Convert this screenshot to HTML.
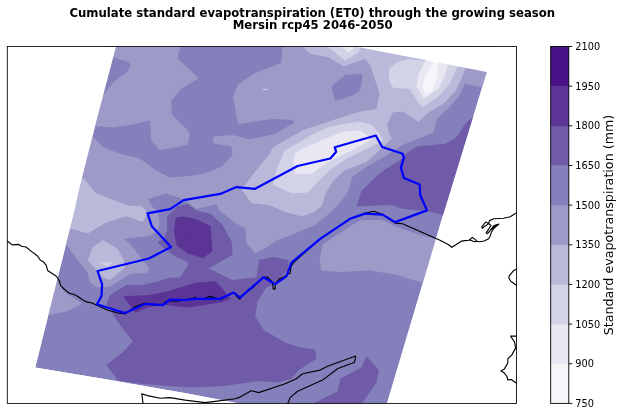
<!DOCTYPE html>
<html><head><meta charset="utf-8">
<title>Cumulate standard evapotranspiration (ET0) - Mersin rcp45 2046-2050</title>
<style>
html,body{margin:0;padding:0;background:#fff;}
body{width:623px;height:416px;overflow:hidden;}
svg{display:block;will-change:transform;}
text{font-family:"DejaVu Sans","Liberation Sans",sans-serif;fill:#000;}
.t{font-size:11.7px;font-weight:bold;text-anchor:middle;}
.k{font-size:9.75px;}
.l{font-size:12.68px;text-anchor:middle;}
.c{fill:none;stroke:#000;stroke-width:1.15;stroke-linejoin:round;stroke-linecap:round;}
.b{fill:none;stroke:#0000ff;stroke-width:2.2;stroke-linejoin:round;stroke-linecap:round;}
</style></head><body>
<svg width="623" height="416" viewBox="0 0 623 416">
<rect width="623" height="416" fill="#fff"/>
<text class="t" x="312.3" y="16.7">Cumulate standard evapotranspiration (ET0) through the growing season</text>
<text class="t" x="312.7" y="29.2">Mersin rcp45 2046-2050</text>
<defs>
<clipPath id="ax"><rect x="7.30" y="46.50" width="509.25" height="356.90"/></clipPath>
<clipPath id="quad"><path d="M116.1 46.3 L354.0 46.3 L486.9 72.0 L441.6 220.0 L387.0 403.4 L239.4 403.4 L190.0 394.1 L100.0 378.3 L35.2 367.4 L74.6 210.0 L78.9 190.0 L96.6 120.0 Z"/></clipPath>
</defs>
<g clip-path="url(#ax)"><g>
<path d="M116.1 46.3 L354.0 46.3 L486.9 72.0 L441.6 220.0 L387.0 403.4 L239.4 403.4 L190.0 394.1 L100.0 378.3 L35.2 367.4 L74.6 210.0 L78.9 190.0 L96.6 120.0 Z" fill="#8380bb"/>
<path d="M100.0 40.0 L180.1 40.0 L180.1 47.0 L177.6 58.8 L198.9 78.1 L181.4 88.8 L170.9 101.3 L172.1 115.1 L185.1 127.6 L190.1 133.8 L187.6 145.0 L160.0 150.0 L151.3 141.3 L150.2 120.5 L130.2 125.0 L112.6 127.5 L96.0 126.3 L80.0 126.0 Z" fill="#9e9ac8"/>
<path d="M282.1 40.0 L500.0 40.0 L500.0 87.0 L482.1 87.4 L464.7 83.6 L459.9 95.1 L449.3 107.6 L437.8 118.2 L435.6 122.5 L433.8 132.5 L415.1 140.1 L402.5 145.1 L392.0 152.0 L384.2 156.7 L369.0 165.2 L352.2 176.9 L348.0 192.1 L338.7 203.9 L330.2 212.7 L314.7 225.3 L293.6 233.9 L276.2 240.7 L266.6 247.4 L255.0 253.2 L246.4 242.6 L245.4 228.2 L235.6 223.3 L219.2 209.9 L216.3 204.1 L197.0 208.9 L183.6 199.3 L166.2 193.5 L147.9 199.3 L152.7 207.0 L158.5 211.8 L159.5 224.3 L156.6 232.0 L148.9 235.9 L123.9 238.7 L131.6 245.5 L140.2 257.0 L148.9 267.6 L147.7 272.6 L130.2 273.9 L110.1 286.4 L97.6 287.6 L90.1 282.6 L87.6 272.6 L75.8 257.5 L65.0 242.6 L50.0 242.0 L80.0 136.0 L92.6 136.3 L103.9 147.5 L120.1 153.8 L140.2 158.8 L155.2 170.1 L170.0 177.6 L187.6 176.3 L203.8 173.8 L222.6 166.3 L232.1 155.0 L231.4 146.3 L213.8 143.8 L212.6 138.8 L213.8 136.4 L232.5 135.1 L250.1 139.4 L275.1 133.9 L294.6 122.6 L293.1 120.1 L272.6 119.1 L238.1 123.9 L233.0 97.6 L237.6 84.6 L255.1 73.0 L281.4 63.0 L282.1 47.0 Z" fill="#9e9ac8"/>
<path d="M322.5 244.5 L350.0 226.5 L360.1 220.1 L382.6 220.1 L395.1 226.3 L420.2 235.1 L440.0 239.5 L428.0 284.5 L397.7 275.0 L370.1 270.5 L340.1 272.0 L321.3 270.5 L319.6 259.9 Z" fill="#9e9ac8"/>
<path d="M45.0 281.0 L57.5 281.3 L65.0 292.5 L82.6 303.8 L67.6 311.3 L49.0 315.0 L40.0 315.0 Z" fill="#9e9ac8"/>
<path d="M100.0 57.0 L113.0 57.0 L128.9 62.5 L130.7 66.3 L126.4 72.5 L117.7 78.8 L110.2 86.3 L104.6 93.8 L95.0 94.0 Z" fill="#8380bb"/>
<path d="M331.3 86.3 L345.1 75.0 L361.3 73.8 L362.6 77.6 L360.1 90.1 L353.8 95.1 L335.1 101.3 Z" fill="#8380bb"/>
<path d="M303.8 40.0 L470.0 40.0 L465.7 68.1 L460.9 79.7 L456.1 90.3 L443.6 103.8 L428.2 112.4 L418.5 122.1 L403.1 111.5 L392.5 112.4 L387.1 125.1 L390.0 136.3 L392.0 138.0 L383.0 147.0 L374.1 155.1 L365.7 162.6 L345.0 170.0 L333.0 181.0 L325.0 195.0 L321.9 205.6 L314.1 212.2 L301.3 216.6 L283.4 211.3 L268.5 205.0 L251.2 203.1 L241.6 189.6 L255.0 172.0 L262.0 163.0 L269.5 154.6 L273.0 147.3 L288.2 138.7 L302.7 130.0 L317.7 125.3 L339.4 118.1 L360.0 111.6 L376.4 108.9 L379.6 93.8 L375.1 80.1 L370.1 65.0 L365.1 58.8 L343.8 66.3 L327.5 57.0 L310.0 53.8 L303.8 47.5 Z" fill="#b9b9da"/>
<path d="M55.0 178.0 L83.9 178.7 L95.5 193.1 L128.2 205.6 L141.7 206.6 L146.5 211.4 L147.0 214.7 L142.7 222.0 L126.3 216.2 L105.1 223.0 L87.8 233.6 L71.4 228.8 L50.0 228.0 Z" fill="#b9b9da"/>
<path d="M87.6 260.1 L92.6 247.6 L102.6 240.1 L117.6 248.8 L123.9 260.1 L125.1 267.6 L110.1 280.1 L102.6 277.6 L97.6 271.4 Z" fill="#b9b9da"/>
<path d="M98.9 262.6 L112.6 262.6 L107.6 266.4 Z" fill="#d3d3e8"/>
<path d="M328.8 40.0 L328.8 47.5 L345.1 60.5 L358.8 52.5 L362.0 40.0 Z" fill="#d3d3e8"/>
<path d="M388.7 69.1 L396.4 62.4 L408.9 59.1 L425.3 61.0 L426.0 50.0 L460.0 50.0 L457.6 65.8 L456.2 69.4 L449.7 83.8 L438.2 96.8 L422.3 106.9 L415.1 98.3 L410.0 88.9 L392.5 87.4 L389.2 80.7 Z" fill="#d3d3e8"/>
<path d="M273.0 184.5 L276.7 169.0 L284.6 150.2 L298.4 143.0 L313.0 134.0 L327.8 127.5 L345.1 123.8 L360.0 121.7 L371.0 124.5 L380.0 134.0 L383.4 140.0 L367.6 148.6 L348.8 157.3 L335.0 166.2 L322.2 177.0 L307.8 192.4 L291.5 193.3 Z" fill="#d3d3e8"/>
<path d="M342.1 40.0 L342.1 47.5 L348.8 52.5 L354.6 48.0 L356.0 40.0 Z" fill="#e8e7f2"/>
<path d="M425.2 50.0 L425.2 60.8 L418.7 73.8 L416.5 86.0 L423.8 99.0 L438.9 88.2 L445.4 73.8 L448.3 63.7 L449.0 50.0 Z" fill="#e8e7f2"/>
<path d="M293.5 164.0 L294.7 153.5 L306.2 146.8 L342.8 131.4 L360.2 130.4 L366.9 135.2 L370.5 140.0 L356.0 148.6 L334.4 158.7 L320.0 167.4 L312.3 173.4 L295.2 174.3 Z" fill="#e8e7f2"/>
<path d="M433.8 50.0 L433.8 61.5 L426.6 73.8 L423.8 81.0 L422.6 88.9 L426.6 93.9 L433.1 90.3 L436.0 81.0 L437.9 69.4 L437.9 50.0 Z" fill="#f6f5f9"/>
<path d="M317.2 155.7 L318.8 155.7 L318.8 156.9 L317.2 156.9 Z" fill="#f6f5f9"/>
<path d="M263.3 88.6 L267.6 89.5 L267.6 90.1 L263.3 89.3 Z" fill="#f6f5f9"/>
<path d="M490.0 114.0 L473.9 116.3 L466.4 122.5 L455.1 138.8 L445.1 143.8 L417.6 146.3 L407.6 152.6 L400.0 160.0 L384.0 170.0 L372.4 180.3 L361.4 191.2 L356.4 206.4 L391.4 205.0 L402.6 208.8 L427.7 211.3 L442.7 215.0 L460.0 215.0 Z" fill="#6f5ba8"/>
<path d="M167.2 216.6 L177.8 206.0 L187.4 204.1 L197.0 210.8 L210.5 213.7 L222.1 224.3 L231.7 241.6 L232.5 255.1 L208.8 268.5 L232.6 280.0 L256.4 277.5 L258.9 260.0 L272.6 257.1 L288.9 260.1 L287.7 270.0 L275.2 283.8 L266.4 287.5 L257.6 301.3 L255.1 316.3 L263.8 330.0 L285.1 342.5 L300.1 347.5 L315.1 349.5 L316.4 358.8 L298.8 370.1 L291.3 378.8 L277.6 382.6 L257.5 381.3 L240.0 383.8 L220.2 386.3 L190.1 387.6 L140.0 383.8 L118.0 380.5 L106.3 365.0 L122.5 352.5 L132.6 341.3 L116.4 320.1 L106.4 303.8 L110.1 295.0 L126.4 285.0 L142.7 285.0 L162.7 280.0 L170.0 277.5 L180.0 277.5 L188.8 263.8 L185.0 261.0 L175.9 257.0 L163.3 247.4 L157.6 242.6 L164.3 236.8 L167.2 230.1 Z" fill="#6f5ba8"/>
<path d="M366.4 356.3 L379.0 370.1 L376.5 382.6 L362.7 402.6 L355.0 410.0 L300.0 410.0 L315.1 402.6 L337.6 391.3 L340.2 378.8 L361.4 367.6 Z" fill="#6f5ba8"/>
<path d="M175.9 217.6 L183.6 216.6 L197.0 219.5 L210.5 226.2 L212.4 251.3 L202.8 258.0 L187.4 253.2 L176.8 245.5 L173.9 232.0 Z" fill="#5b3495"/>
<path d="M123.2 296.3 L148.9 295.0 L168.0 291.3 L195.0 282.8 L215.1 281.3 L222.6 288.8 L230.1 298.8 L221.3 302.6 L188.8 307.6 L162.7 305.1 L147.7 307.6 L135.2 312.6 Z" fill="#5b3495"/>
<path d="M189.8 234.8 L190.9 234.8 L190.9 235.9 L189.8 235.9 Z" fill="#481185"/>
</g>
<path fill="#fff" fill-rule="evenodd" d="M-10 -10 L640 -10 L640 430 L-10 430 Z M116.1 46.3 L354.0 46.3 L486.9 72.0 L441.6 220.0 L387.0 403.4 L239.4 403.4 L190.0 394.1 L100.0 378.3 L35.2 367.4 L74.6 210.0 L78.9 190.0 L96.6 120.0 Z"/>
<path class="c" d="M6.5 240.6 L7.5 241.3 L12.3 244.9 L18.8 244.4 L21.6 246.2 L26.0 247.0 L31.7 251.6 L37.5 256.0 L40.4 260.3 L43.3 261.7 L46.2 265.4 L47.6 270.4 L56.3 276.2 L59.2 280.5 L60.6 285.6 L64.0 289.0 L69.3 293.2 L74.0 294.5 L78.0 296.5 L82.0 299.5 L86.6 301.9 L91.0 302.8 L97.0 305.3 L108.0 310.3 L118.0 313.0 L125.0 314.0 L135.2 306.6 L145.2 303.0 L155.0 305.0 L162.7 304.5 L166.0 301.5 L170.0 300.6 L176.3 301.2 L182.5 300.0 L191.9 298.5 L195.0 297.5 L198.2 299.2 L204.4 298.5 L209.7 296.4 L214.9 297.9 L220.1 299.6 L226.4 296.4 L230.5 293.3 L234.7 293.3 L236.8 296.4 L239.9 299.2 L242.0 295.4 L253.5 287.0 L262.9 277.0 L267.1 277.0 L272.3 281.8 L273.3 289.1 L275.0 289.1 L275.4 283.9 L279.6 278.7 L283.8 277.0 L286.9 274.5 L290.0 273.5 L291.1 266.2 L294.2 262.0 L320.2 238.8 L350.0 218.8 L365.1 213.1 L373.8 211.3 L378.8 213.0 L382.6 214.6 L395.1 223.1 L402.6 223.8 L440.0 240.3 L448.7 244.7 L451.8 247.3 L455.9 244.7 L461.7 241.1 L465.0 240.6 L469.3 240.3 L472.2 237.4 L474.1 238.4 L477.0 241.3 L474.6 241.7 L469.3 239.8 L474.6 241.7 L477.0 241.3 L479.4 241.7 L484.2 241.0 L488.6 238.8 L490.2 236.0 L491.4 232.1 L493.8 228.3 L498.7 224.2 L493.8 225.9 L490.0 230.7 L487.6 233.6 L486.2 232.9 L489.5 227.8 L491.0 225.4 L488.6 223.5 L485.7 222.0 L481.8 226.8 L482.3 228.3 L485.2 225.9 L487.6 224.4 L488.6 223.5 L489.5 220.6 L493.8 218.7 L503.5 218.2 L510.2 216.7 L515.0 213.8 L517.2 212.2"/>
<path class="c" d="M517.0 269.0 L513.6 270.6 L509.2 275.9 L508.8 277.8 L510.7 281.2 L517.0 285.8"/>
<path class="c" d="M517.0 336.1 L510.6 336.1 L514.5 342.0 L515.7 347.9 L512.0 354.6 L507.8 358.8 L507.8 363.0 L504.4 368.9 L501.0 371.1 L504.4 373.1 L506.9 376.5 L507.8 379.9 L511.1 379.5 L517.0 383.5"/>
<path class="c" d="M143.1 404.0 L141.8 393.8 L147.6 395.6 L160.1 398.3 L170.1 397.6 L185.1 400.1 L205.2 402.6 L215.2 401.4 L235.2 398.8 L240.0 397.1 L251.3 390.8 L258.8 392.6 L285.1 383.8 L296.3 378.8 L302.6 373.8 L320.1 370.1 L327.6 366.3 L355.7 356.0 L354.5 362.2 L352.0 363.2 L337.8 368.5 L322.6 380.1 L297.6 391.3 L290.1 397.6 L287.6 404.0"/>
<path d="M493.6 228.6 L498.9 224.0 L494.0 225.6 L491.5 229.5 Z" fill="#000" stroke="#000" stroke-width="0.6"/>
<path class="b" d="M147.5 213.4 L170.0 209.2 L183.7 200.2 L220.2 193.9 L236.4 187.1 L255.1 188.8 L297.6 166.0 L330.3 158.5 L336.2 151.8 L334.8 147.3 L375.8 135.5 L382.2 147.0 L402.7 153.8 L403.9 157.6 L400.9 167.6 L403.9 178.1 L419.7 184.6 L420.2 195.0 L427.0 210.4 L395.1 222.1 L382.6 214.6 L365.1 213.6 L350.0 218.8 L320.2 238.8 L291.4 262.6 L286.4 276.4 L275.2 284.2 L263.5 277.3 L240.1 297.6 L233.8 292.5 L220.1 298.8 L195.0 298.8 L186.0 300.0 L170.2 299.5 L162.7 305.1 L145.2 303.8 L125.1 313.1 L97.0 304.3 L101.5 296.0 L102.1 284.3 L97.6 271.0 L148.9 258.5 L171.0 247.0 L151.8 226.2 Z"/>
</g>
<rect x="7.30" y="46.50" width="509.25" height="356.90" fill="none" stroke="#000" stroke-width="0.85"/>
<rect x="550.70" y="363.74" width="18.10" height="39.96" fill="#f6f5f9"/>
<rect x="550.70" y="324.09" width="18.10" height="39.96" fill="#e8e7f2"/>
<rect x="550.70" y="284.43" width="18.10" height="39.96" fill="#d3d3e8"/>
<rect x="550.70" y="244.78" width="18.10" height="39.96" fill="#b9b9da"/>
<rect x="550.70" y="205.12" width="18.10" height="39.96" fill="#9e9ac8"/>
<rect x="550.70" y="165.47" width="18.10" height="39.96" fill="#8380bb"/>
<rect x="550.70" y="125.81" width="18.10" height="39.96" fill="#6f5ba8"/>
<rect x="550.70" y="86.16" width="18.10" height="39.96" fill="#5b3495"/>
<rect x="550.70" y="46.50" width="18.10" height="39.96" fill="#481185"/>
<rect x="550.70" y="46.50" width="18.10" height="356.90" fill="none" stroke="#000" stroke-width="0.9"/>
<line x1="568.80" y1="403.40" x2="572.30" y2="403.40" stroke="#000" stroke-width="0.9"/>
<text class="k" x="575.30" y="407.00">750</text>
<line x1="568.80" y1="363.74" x2="572.30" y2="363.74" stroke="#000" stroke-width="0.9"/>
<text class="k" x="575.30" y="367.34">900</text>
<line x1="568.80" y1="324.09" x2="572.30" y2="324.09" stroke="#000" stroke-width="0.9"/>
<text class="k" x="575.30" y="327.69">1050</text>
<line x1="568.80" y1="284.43" x2="572.30" y2="284.43" stroke="#000" stroke-width="0.9"/>
<text class="k" x="575.30" y="288.03">1200</text>
<line x1="568.80" y1="244.78" x2="572.30" y2="244.78" stroke="#000" stroke-width="0.9"/>
<text class="k" x="575.30" y="248.38">1350</text>
<line x1="568.80" y1="205.12" x2="572.30" y2="205.12" stroke="#000" stroke-width="0.9"/>
<text class="k" x="575.30" y="208.72">1500</text>
<line x1="568.80" y1="165.47" x2="572.30" y2="165.47" stroke="#000" stroke-width="0.9"/>
<text class="k" x="575.30" y="169.07">1650</text>
<line x1="568.80" y1="125.81" x2="572.30" y2="125.81" stroke="#000" stroke-width="0.9"/>
<text class="k" x="575.30" y="129.41">1800</text>
<line x1="568.80" y1="86.16" x2="572.30" y2="86.16" stroke="#000" stroke-width="0.9"/>
<text class="k" x="575.30" y="89.76">1950</text>
<line x1="568.80" y1="46.50" x2="572.30" y2="46.50" stroke="#000" stroke-width="0.9"/>
<text class="k" x="575.30" y="50.10">2100</text>
<text class="l" transform="translate(613.2,225) rotate(-90)">Standard evapotranspiration (mm)</text>
</svg>
</body></html>
